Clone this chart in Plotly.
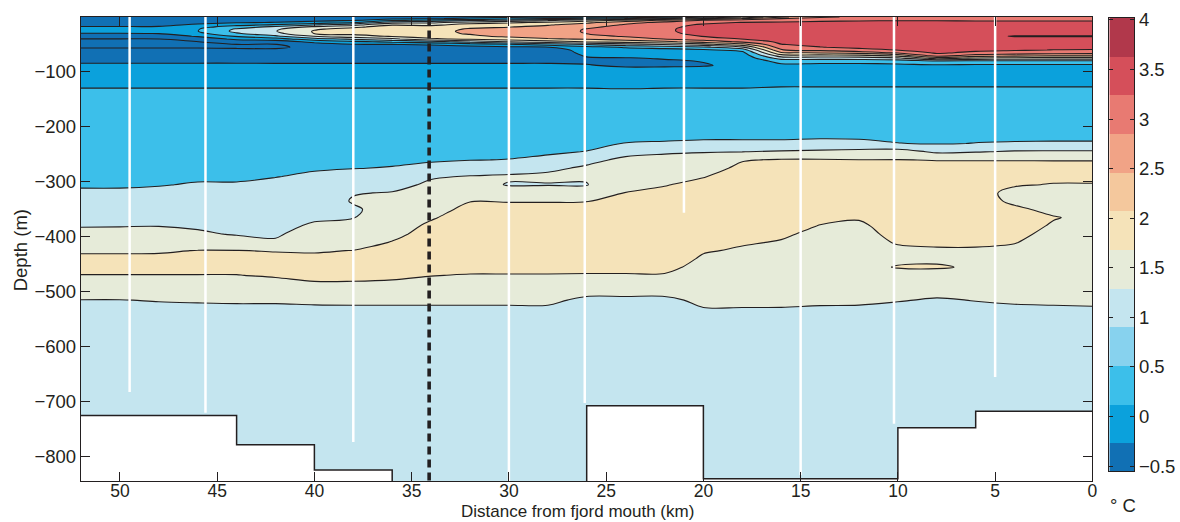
import plotly.graph_objects as go

# ---------------- data ----------------
distance_km = [52, 50, 48, 46, 44, 42, 40, 38, 36, 34, 32, 30, 28, 26,
               24, 22, 20, 18, 16, 14, 12, 10, 8, 6, 4, 2, 0]

depth_m = [0, 3, 6, 10, 14, 18, 22, 26, 30, 35, 40, 45, 50, 55, 60, 65, 70, 75, 80, 88, 96, 110, 125, 140,
           170, 200, 215, 230, 245, 260, 275, 290, 305, 320, 335, 350, 365, 380, 395, 410, 425, 440,
           455, 470, 485, 500, 515, 530, 560, 650, 750, 850]

# one temperature profile (deg C) per distance, top (0-140 m) then below
temperature_c = [
    [-0.3,-0.3,-0.28,-0.2,-0.1,0.02,0.12,0.15,-0.02,-0.3,-0.51,-0.55,-0.55,-0.52,-0.45,-0.35,-0.25,-0.15,-0.05,0.05,0.15,0.3,0.48,0.55,
     0.6,0.65,0.68,0.7,0.73,0.77,0.82,0.88,0.95,1.07,1.18,1.28,1.38,1.47,1.65,1.8,1.95,2.08,2.1,1.99,1.85,1.68,1.49,1.4,1.32,1.25,1.2,1.2],
    [-0.3,-0.3,-0.28,-0.2,-0.1,0.02,0.12,0.15,-0.02,-0.3,-0.51,-0.55,-0.55,-0.52,-0.45,-0.35,-0.25,-0.15,-0.05,0.05,0.15,0.3,0.48,0.55,
     0.6,0.65,0.68,0.7,0.73,0.77,0.82,0.88,0.95,1.07,1.18,1.28,1.38,1.48,1.66,1.8,1.95,2.08,2.1,1.99,1.85,1.68,1.49,1.4,1.32,1.25,1.2,1.2],
    [-0.3,-0.3,-0.28,-0.2,-0.1,0.03,0.13,0.17,0.01,-0.28,-0.51,-0.55,-0.55,-0.52,-0.45,-0.35,-0.25,-0.15,-0.05,0.05,0.15,0.3,0.48,0.55,
     0.6,0.65,0.68,0.71,0.74,0.78,0.84,0.9,0.98,1.09,1.19,1.29,1.39,1.49,1.66,1.8,1.96,2.08,2.1,1.99,1.85,1.69,1.52,1.42,1.33,1.25,1.2,1.2],
    [-0.3,-0.3,-0.25,-0.12,0.05,0.3,0.47,0.49,0.35,0.05,-0.3,-0.51,-0.54,-0.52,-0.45,-0.35,-0.25,-0.15,-0.05,0.05,0.15,0.3,0.48,0.55,
     0.6,0.66,0.7,0.73,0.77,0.81,0.86,0.94,1.03,1.12,1.22,1.3,1.38,1.45,1.56,1.8,2.01,2.1,2.1,1.99,1.85,1.7,1.55,1.4,1.32,1.25,1.2,1.2],
    [-0.3,-0.3,-0.22,-0.05,0.3,0.75,1.05,1.12,0.95,0.55,0.1,-0.3,-0.51,-0.53,-0.46,-0.36,-0.26,-0.15,-0.05,0.05,0.15,0.3,0.48,0.55,
     0.6,0.66,0.7,0.73,0.77,0.81,0.86,0.94,1.03,1.1,1.17,1.24,1.32,1.4,1.47,1.7,2.01,2.1,2.1,1.99,1.85,1.7,1.56,1.42,1.32,1.25,1.2,1.2],
    [-0.28,-0.28,-0.2,0.02,0.52,1.1,1.42,1.48,1.35,0.9,0.3,-0.3,-0.52,-0.53,-0.47,-0.38,-0.28,-0.17,-0.06,0.05,0.15,0.3,0.48,0.55,
     0.6,0.67,0.71,0.75,0.8,0.85,0.92,0.99,1.07,1.13,1.2,1.27,1.33,1.4,1.45,1.55,1.98,2.1,2.12,2.04,1.88,1.72,1.56,1.42,1.32,1.25,1.2,1.2],
    [-0.25,-0.25,-0.15,0.2,0.9,1.6,1.95,2.04,2.02,1.52,0.8,0.15,-0.25,-0.45,-0.495,-0.4,-0.3,-0.18,-0.06,0.05,0.15,0.3,0.48,0.55,
     0.62,0.68,0.72,0.77,0.83,0.9,0.97,1.05,1.12,1.2,1.27,1.35,1.45,1.55,1.68,1.8,1.96,2.1,2.15,2.08,1.97,1.8,1.58,1.44,1.33,1.25,1.2,1.2],
    [-0.2,-0.2,-0.05,0.48,1.3,1.9,2.15,2.2,2.15,1.8,1.1,0.4,-0.05,-0.3,-0.38,-0.35,-0.28,-0.18,-0.06,0.05,0.15,0.3,0.48,0.55,
     0.62,0.68,0.72,0.78,0.85,0.92,0.99,1.15,1.3,1.48,1.53,1.45,1.49,1.58,1.7,1.82,2.01,2.12,2.15,2.1,1.96,1.8,1.6,1.44,1.33,1.25,1.2,1.2],
    [-0.2,-0.1,0.4,1.3,1.95,2.2,2.3,2.32,2.28,2.05,1.4,0.6,-0.02,-0.25,-0.35,-0.33,-0.27,-0.18,-0.06,0.05,0.15,0.3,0.48,0.55,
     0.62,0.69,0.73,0.79,0.86,0.93,1.02,1.2,1.37,1.52,1.6,1.66,1.72,1.8,1.9,2.02,2.1,2.15,2.15,2.07,1.94,1.8,1.6,1.44,1.33,1.25,1.2,1.2],
    [-0.2,-0.05,0.6,1.4,1.85,2.2,2.34,2.4,2.38,2.25,1.9,0.8,0.05,-0.2,-0.3,-0.3,-0.25,-0.17,-0.06,0.05,0.15,0.3,0.48,0.55,
     0.62,0.7,0.75,0.82,0.89,0.96,1.1,1.46,1.57,1.66,1.76,1.86,1.96,2.08,2.15,2.2,2.2,2.18,2.12,2.01,1.9,1.78,1.6,1.44,1.33,1.25,1.2,1.2],
    [-0.15,0.1,0.9,1.7,2.2,2.42,2.54,2.56,2.54,2.42,2.1,1.2,0.2,-0.15,-0.28,-0.28,-0.24,-0.17,-0.06,0.05,0.15,0.3,0.48,0.55,
     0.63,0.71,0.77,0.84,0.91,0.99,1.25,1.52,1.68,1.85,1.99,2.1,2.2,2.25,2.25,2.25,2.22,2.17,2.1,1.98,1.88,1.78,1.6,1.44,1.33,1.25,1.2,1.2],
    [-0.1,0.3,1.1,1.9,2.3,2.48,2.62,2.72,2.72,2.58,2.3,1.52,0.4,-0.1,-0.25,-0.26,-0.23,-0.16,-0.06,0.05,0.15,0.3,0.48,0.55,
     0.64,0.72,0.78,0.85,0.92,1.01,1.3,1.56,1.47,1.72,1.98,2.12,2.22,2.28,2.3,2.3,2.28,2.2,2.1,1.98,1.88,1.78,1.6,1.44,1.33,1.25,1.2,1.2],
    [-0.08,0.52,1.4,2.1,2.45,2.62,2.8,2.9,2.88,2.75,2.45,1.8,0.7,-0.02,-0.2,-0.24,-0.22,-0.16,-0.06,0.05,0.15,0.3,0.48,0.55,
     0.65,0.73,0.79,0.87,0.95,1.08,1.42,1.58,1.48,1.72,1.98,2.12,2.22,2.28,2.3,2.3,2.28,2.2,2.1,1.98,1.88,1.75,1.58,1.45,1.33,1.25,1.2,1.2],
    [-0.05,0.7,1.7,2.4,2.7,2.9,3.02,3.02,3.01,2.85,2.55,2.02,1.02,0.3,0.15,0.1,0.03,-0.03,-0.06,0.02,0.15,0.3,0.48,0.55,
     0.66,0.75,0.82,0.9,1.01,1.4,1.56,1.58,1.47,1.8,1.99,2.12,2.22,2.28,2.3,2.3,2.28,2.2,2.1,1.97,1.82,1.6,1.42,1.38,1.32,1.25,1.2,1.2],
    [-0.02,1.02,2.1,2.8,3.05,3.15,3.2,3.2,3.18,3.05,2.75,2.2,1.3,0.55,0.25,0.15,0.08,-0.02,-0.05,-0.06,0.1,0.3,0.47,0.55,
     0.68,0.8,0.9,1.01,1.38,1.58,1.66,1.76,1.86,2.01,2.12,2.2,2.26,2.3,2.3,2.3,2.28,2.2,2.1,1.97,1.82,1.6,1.42,1.38,1.32,1.25,1.2,1.2],
    [0.3,1.52,2.6,3.15,3.35,3.42,3.45,3.45,3.42,3.3,3.02,2.4,1.52,0.7,0.3,0.18,0.1,0.02,-0.03,-0.04,0.08,0.3,0.48,0.55,
     0.7,0.82,0.92,1.03,1.45,1.62,1.75,1.88,1.98,2.08,2.15,2.22,2.26,2.28,2.3,2.3,2.28,2.2,2.1,1.97,1.82,1.6,1.42,1.38,1.32,1.25,1.2,1.2],
    [0.8,2.02,3.02,3.4,3.55,3.6,3.62,3.62,3.6,3.52,3.25,2.7,1.8,0.9,0.4,0.22,0.12,0.05,0.01,-0.02,0.08,0.3,0.48,0.55,
     0.7,0.83,0.94,1.05,1.48,1.65,1.82,1.98,2.1,2.18,2.22,2.25,2.25,2.22,2.17,2.1,2.03,1.95,1.88,1.82,1.75,1.66,1.58,1.49,1.36,1.28,1.22,1.2],
    [1.52,2.52,3.2,3.52,3.65,3.7,3.72,3.72,3.7,3.65,3.52,3.1,2.3,1.4,0.7,0.35,0.2,0.12,0.08,0.06,0.12,0.3,0.48,0.55,
     0.7,0.83,0.94,1.05,1.49,1.97,2.1,2.18,2.22,2.25,2.25,2.22,2.18,2.12,2.08,2.03,1.96,1.9,1.85,1.8,1.74,1.66,1.58,1.49,1.36,1.28,1.22,1.2],
    [2.4,3.02,3.35,3.55,3.7,3.75,3.78,3.8,3.8,3.78,3.72,3.62,3.48,3.3,2.98,2.45,1.8,1.2,0.7,0.38,0.3,0.35,0.49,0.56,
     0.7,0.83,0.94,1.05,1.55,2.04,2.12,2.18,2.22,2.24,2.23,2.2,2.16,2.1,2.04,1.98,1.93,1.88,1.84,1.79,1.73,1.66,1.57,1.49,1.36,1.28,1.22,1.2],
    [2.9,3.2,3.4,3.6,3.75,3.8,3.82,3.83,3.83,3.82,3.78,3.72,3.62,3.48,3.15,2.55,1.85,1.2,0.7,0.35,0.3,0.35,0.49,0.56,
     0.7,0.83,0.94,1.08,1.6,2.04,2.12,2.18,2.2,2.2,2.17,2.12,2.06,1.99,1.93,1.9,1.87,1.85,1.83,1.78,1.72,1.65,1.56,1.47,1.36,1.28,1.22,1.2],
    [3.1,3.3,3.45,3.62,3.78,3.82,3.85,3.86,3.86,3.85,3.82,3.78,3.7,3.6,3.35,2.7,1.9,1.25,0.7,0.35,0.3,0.35,0.49,0.56,
     0.7,0.82,0.9,1.1,1.65,2.01,2.1,2.15,2.16,2.15,2.12,2.08,2.02,1.96,1.92,1.9,1.88,1.87,1.9,1.8,1.72,1.65,1.56,1.46,1.36,1.28,1.22,1.2],
    [3.15,3.32,3.47,3.63,3.8,3.84,3.86,3.87,3.87,3.87,3.85,3.82,3.76,3.68,3.52,3.1,2.2,1.4,0.75,0.38,0.3,0.35,0.49,0.56,
     0.7,0.8,0.9,1.01,1.7,2.01,2.12,2.18,2.2,2.2,2.18,2.15,2.12,2.1,2.07,2.02,1.95,1.93,2.02,1.85,1.75,1.64,1.52,1.42,1.35,1.28,1.22,1.2],
    [3.15,3.32,3.47,3.63,3.8,3.85,3.87,3.88,3.88,3.9,3.88,3.84,3.78,3.72,3.65,3.58,3.3,2.2,1.02,0.42,0.3,0.35,0.49,0.56,
     0.68,0.78,0.87,0.97,1.42,1.99,2.1,2.16,2.2,2.2,2.18,2.16,2.14,2.12,2.09,2.04,1.97,1.93,2.04,1.82,1.7,1.58,1.47,1.4,1.35,1.28,1.22,1.2],
    [3.15,3.3,3.45,3.62,3.78,3.83,3.86,3.87,3.88,3.9,3.88,3.84,3.78,3.7,3.6,3.4,2.8,1.9,0.9,0.4,0.3,0.35,0.49,0.56,
     0.68,0.78,0.9,1.01,1.47,1.99,2.1,2.12,2.1,2.08,2.07,2.08,2.1,2.1,2.08,2.04,1.97,1.92,1.95,1.82,1.72,1.61,1.51,1.44,1.36,1.28,1.22,1.2],
    [3.12,3.28,3.45,3.62,3.78,3.83,3.86,3.87,3.88,4.02,3.88,3.84,3.78,3.68,3.55,3.3,2.7,1.85,0.9,0.4,0.3,0.35,0.49,0.56,
     0.69,0.8,0.9,1.03,1.55,1.99,2.1,2.07,2.02,1.94,1.97,2.03,2.08,2.08,2.06,2.01,1.95,1.9,1.86,1.8,1.72,1.62,1.54,1.46,1.36,1.28,1.22,1.2],
    [3.1,3.27,3.45,3.62,3.78,3.83,3.86,3.87,3.88,4.03,3.88,3.84,3.76,3.62,3.49,3.22,2.62,1.8,0.9,0.4,0.3,0.35,0.49,0.56,
     0.69,0.8,0.9,1.04,1.56,1.99,2.08,2.05,1.99,1.92,1.9,1.96,2.01,1.98,1.93,1.9,1.87,1.85,1.83,1.79,1.72,1.64,1.55,1.47,1.37,1.28,1.22,1.2],
    [3.1,3.27,3.45,3.62,3.78,3.83,3.86,3.87,3.88,4.03,3.88,3.84,3.76,3.6,3.48,3.2,2.6,1.8,0.9,0.4,0.3,0.35,0.49,0.56,
     0.69,0.8,0.9,1.04,1.56,1.99,2.08,2.05,1.99,1.92,1.9,1.93,1.96,1.95,1.92,1.9,1.87,1.85,1.83,1.79,1.72,1.64,1.56,1.48,1.37,1.28,1.22,1.2],
]

# contour levels and colours
level_start, level_end, level_step = -0.5, 4.0, 0.5
colorbar_edges = [-0.55, -0.27, 0.12, 0.51, 0.90, 1.29, 1.68, 2.07, 2.46, 2.85, 3.24, 3.63, 4.02]
colorbar_ticks = [-0.5, 0, 0.5, 1, 1.5, 2, 2.5, 3, 3.5, 4]
palette = ['#1170b4', '#0ba1dc', '#3cbfea', '#87d2ee', '#c4e5ef', '#e6ebd9',
           '#f5e3b9', '#f4c89d', '#f1a386', '#e87a72', '#d54f5a', '#b1384b']
band_palette_index = [0, 0, 1, 2, 4, 5, 6, 8, 9, 10, 11]

# bathymetry (white) and CTD casts
bathy_edges_km = [52.5, 44, 40, 36, 26, 20, 10, 6, -0.5]
bathy_depth_m = [725, 778, 824, 870, 707, 840, 747, 717]
station_km = [49.5, 45.6, 38.0, 30.0, 26.1, 21.0, 15.0, 10.2, 5.0]
station_depth_m = [682, 720, 773, 850, 702, 356, 833, 740, 655]
sill_km = 34.1

x_ticks = [50, 45, 40, 35, 30, 25, 20, 15, 10, 5, 0]
y_ticks = [-100, -200, -300, -400, -500, -600, -700, -800]

# ---------------- build figure ----------------
for prof in temperature_c:
    assert len(prof) == len(depth_m), len(prof)
assert len(temperature_c) == len(distance_km)

xs = distance_km[::-1]
cols = temperature_c[::-1]
nd = len(depth_m)
ys = [-depth_m[i] for i in reversed(range(nd))]
z = [[cols[j][i] for j in range(len(xs))] for i in reversed(range(nd))]

nb = len(band_palette_index)
contour_cs = [[k / (nb - 1), palette[band_palette_index[k]]] for k in range(nb)]

INK = '#231f20'
FONT = 'Liberation Sans, Arial, Helvetica, sans-serif'
fig = go.Figure()
fig.add_trace(go.Contour(
    x=xs, y=ys, z=z, autocontour=False,
    contours=dict(start=level_start, end=level_end, size=level_step,
                  coloring='fill', showlines=True),
    colorscale=contour_cs, showscale=False,
    line=dict(color=INK, width=1.1, smoothing=1),
    hoverinfo='skip'))

bx, by = [], []
for i, d in enumerate(bathy_depth_m):
    bx += [bathy_edges_km[i], bathy_edges_km[i + 1]]
    by += [-d, -d]
bx += [bathy_edges_km[-1], bathy_edges_km[0]]
by += [-950, -950]
fig.add_trace(go.Scatter(x=bx, y=by, mode='lines', fill='toself', fillcolor='white',
                         line=dict(color=INK, width=1.5), hoverinfo='skip'))

sx, sy = [], []
for k, d in zip(station_km, station_depth_m):
    sx += [k, k, None]
    sy += [0, -d, None]
fig.add_trace(go.Scatter(x=sx, y=sy, mode='lines', line=dict(color='white', width=2.5),
                         hoverinfo='skip'))

fig.add_trace(go.Scatter(x=[sill_km, sill_km], y=[-1, -845], mode='lines',
                         line=dict(color=INK, width=3.6, dash='8px,5px'), hoverinfo='skip'))

# colour bar drawn as a heatmap of bands
fig.add_trace(go.Heatmap(
    x=[0, 1], y=colorbar_edges, z=[[k] for k in range(len(palette))],
    colorscale=[[k / (len(palette) - 1), c] for k, c in enumerate(palette)],
    zmin=0, zmax=len(palette) - 1, showscale=False, xaxis='x2', yaxis='y2',
    hoverinfo='skip'))

W, H = 1180, 522
L, R, T, B = 81, 0, 17, 41
pw, ph = W - L - R, H - T - B
def px_x(p):
    return (p - L) / pw
def px_y(p):
    return 1 - (p - T) / ph

axis_common = dict(showline=True, linecolor=INK, linewidth=1.3, mirror='allticks',
                   ticks='inside', tickcolor=INK, tickwidth=1, showgrid=False,
                   zeroline=False, fixedrange=True)

fig.update_layout(
    width=W, height=H, margin=dict(l=L, r=R, t=T, b=B),
    paper_bgcolor='white', plot_bgcolor='white', showlegend=False,
    font=dict(family=FONT, size=18, color=INK),
    xaxis=dict(domain=[0, px_x(1097)], range=[52, 0], tickvals=x_ticks, ticklen=9,
               tickfont=dict(size=17.5), ticklabelstandoff=-6, **axis_common),
    yaxis=dict(domain=[0, 1], range=[-844, 0], tickvals=y_ticks, ticklen=9,
               tickfont=dict(size=18.5), **axis_common),
    xaxis2=dict(domain=[px_x(1114), px_x(1139)], range=[0, 1], anchor='y2',
                showticklabels=False, showline=True, mirror=True, linecolor=INK,
                linewidth=1, ticks='', showgrid=False, zeroline=False, fixedrange=True),
    yaxis2=dict(domain=[px_y(471), px_y(18)], range=[colorbar_edges[0], colorbar_edges[-1]],
                anchor='x2', side='right', tickvals=colorbar_ticks,
                ticktext=[('\u2212' + str(abs(v))) if v < 0 else ('%g' % v) for v in colorbar_ticks],
                showline=True, linecolor=INK, linewidth=1, mirror='allticks', ticks='inside',
                ticklen=4, tickcolor=INK, showgrid=False, zeroline=False, fixedrange=True,
                tickfont=dict(size=18.5)),
    annotations=[
        dict(text='Depth (m)', xref='paper', yref='paper', x=px_x(20), y=px_y(250),
             xanchor='center', yanchor='middle', textangle=-90, showarrow=False,
             font=dict(size=18.5)),
        dict(text='Distance from fjord mouth (km)', xref='paper', yref='paper',
             x=px_x(580), y=px_y(511), xanchor='center', yanchor='middle',
             showarrow=False, font=dict(size=17)),
        dict(text='\u00b0 C', xref='paper', yref='paper', x=px_x(1128), y=px_y(505),
             xanchor='center', yanchor='middle', showarrow=False, font=dict(size=18.5)),
    ],
)

fig.write_html('out.html')
